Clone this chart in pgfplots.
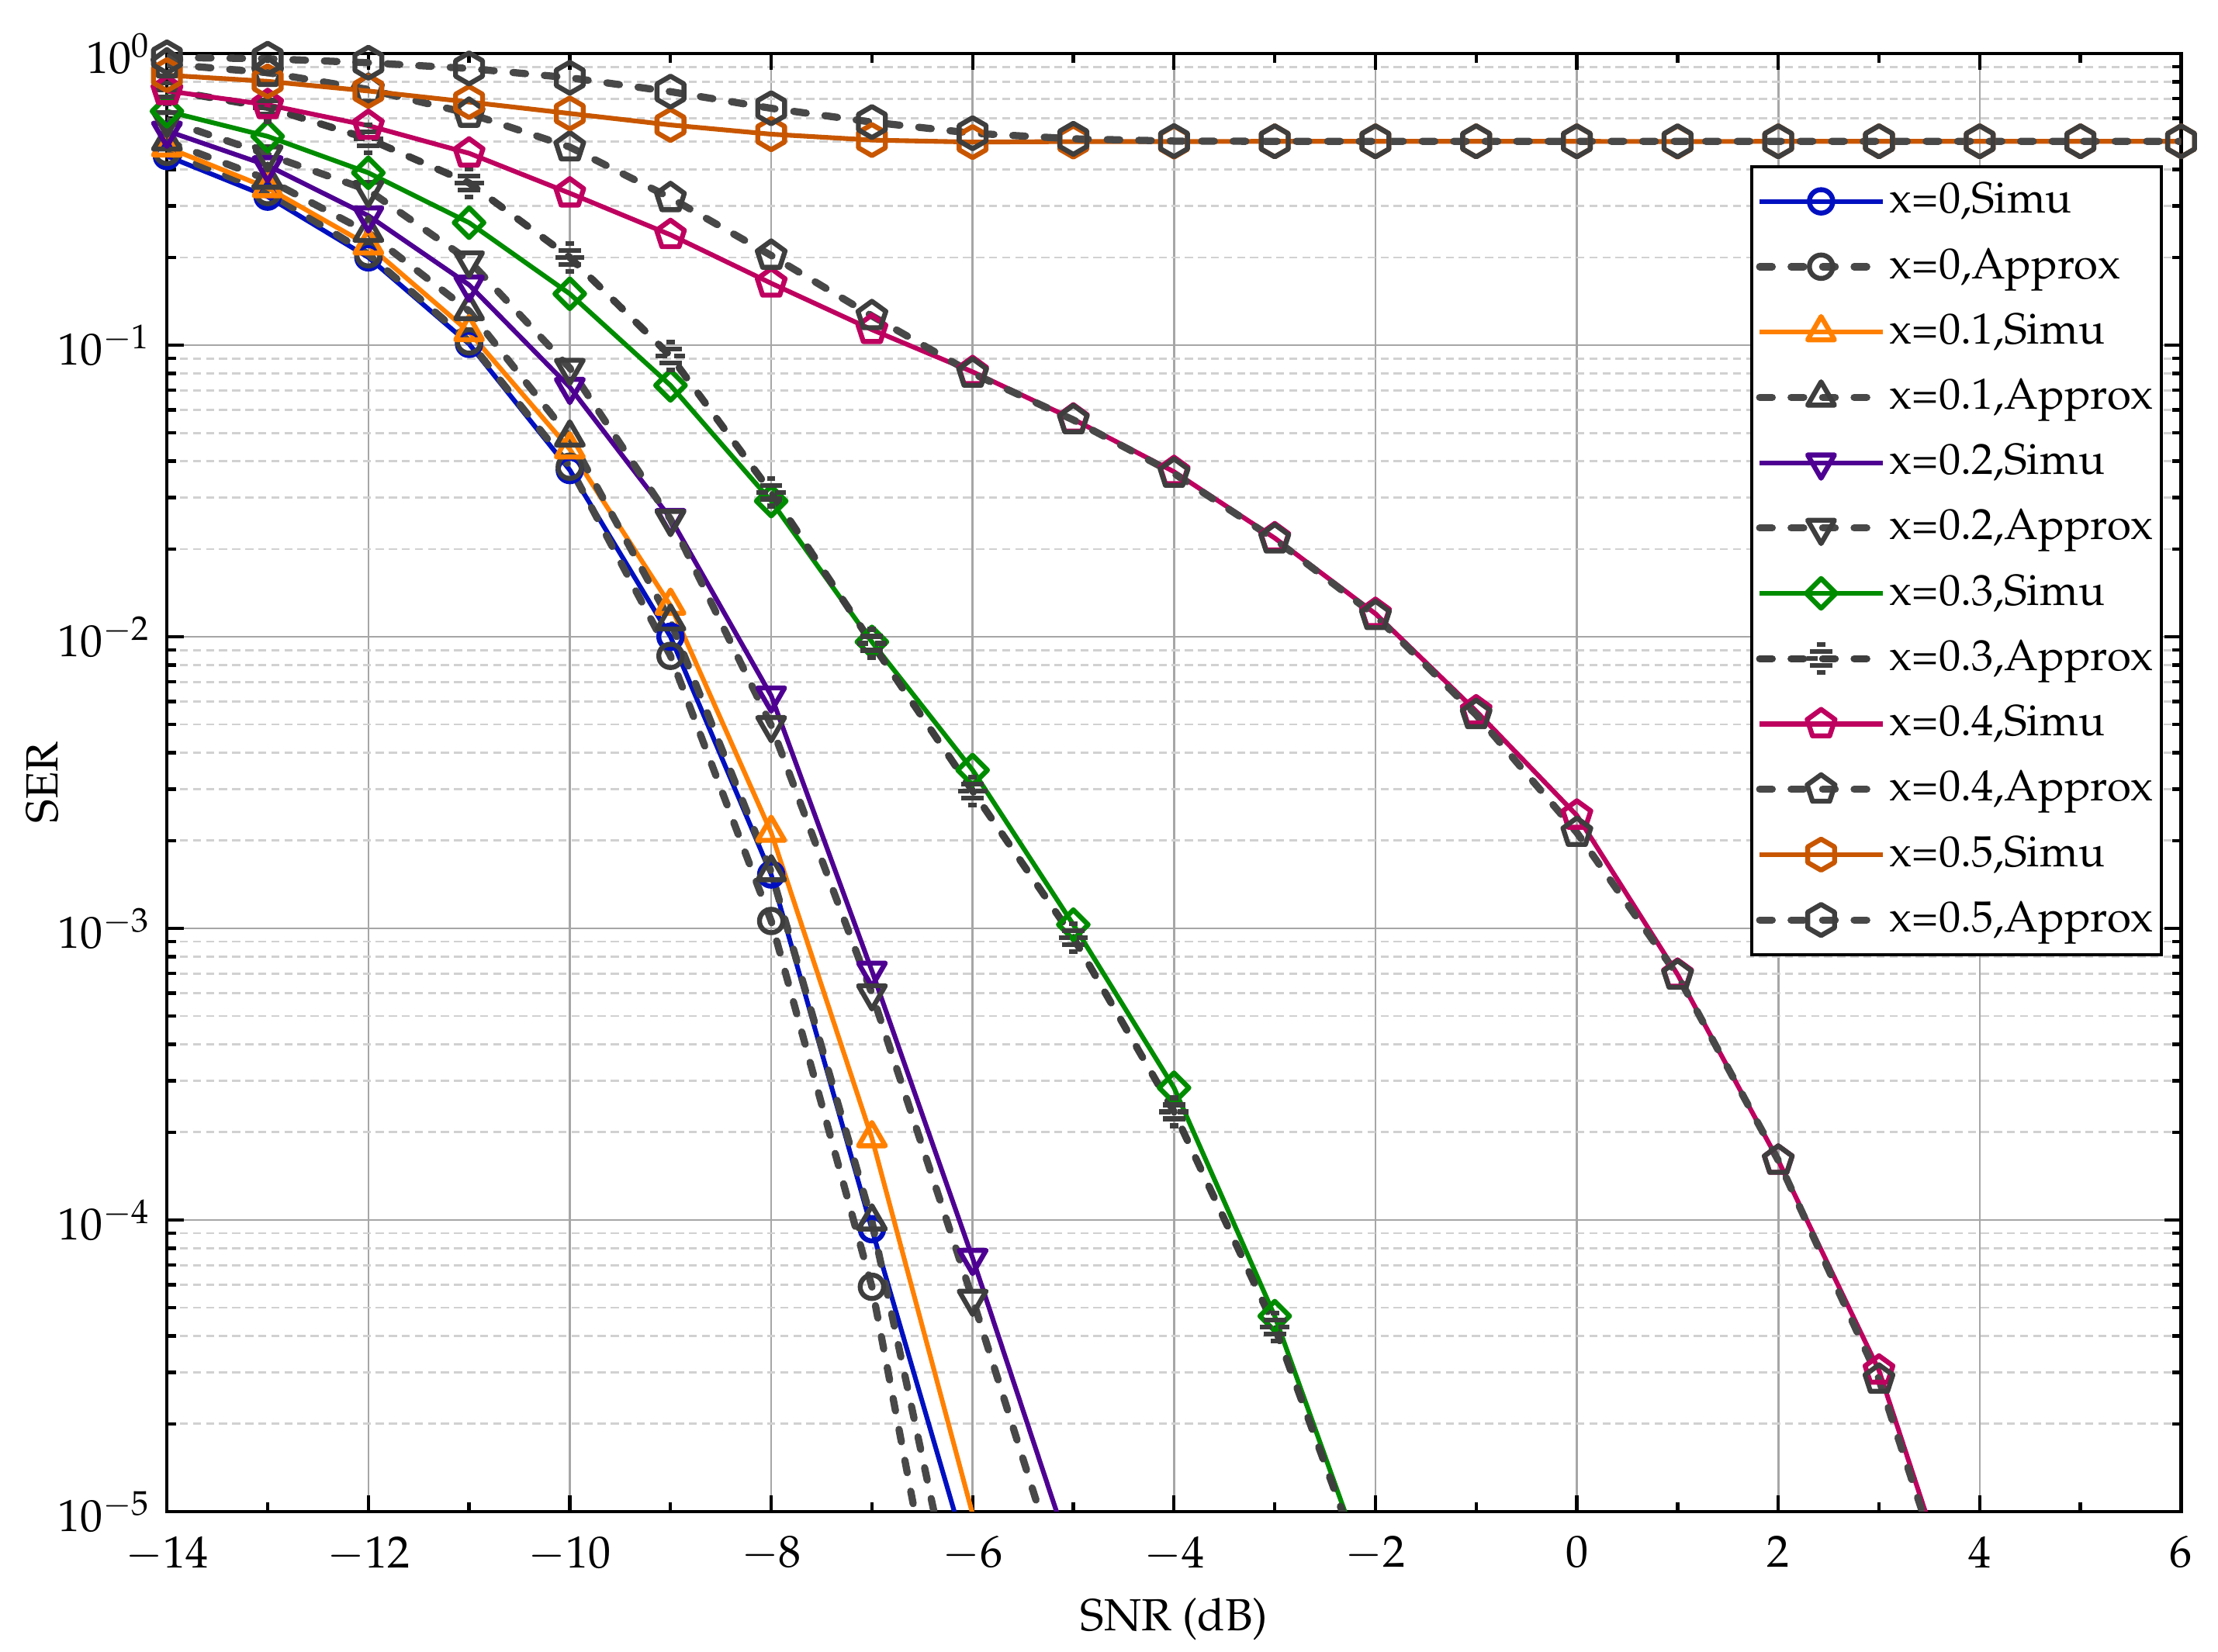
\documentclass[border=0pt]{standalone}
\usepackage[T1]{fontenc}
\usepackage{mathpazo}
\usepackage{pgfplots}
\pgfplotsset{compat=1.18}
\usetikzlibrary{plotmarks}

\definecolor{cB}{RGB}{0,16,192}
\definecolor{cO}{RGB}{255,128,0}
\definecolor{cP}{RGB}{78,0,146}
\definecolor{cG}{RGB}{0,140,0}
\definecolor{cR}{RGB}{190,0,95}
\definecolor{cBr}{RGB}{200,86,0}
\definecolor{cD}{RGB}{62,62,62}
\definecolor{cDl}{RGB}{72,72,72}

\pgfdeclareplotmark{hexa}{%
  \pgfpathmoveto{\pgfpointpolar{90}{\pgfplotmarksize}}%
  \pgfpathlineto{\pgfpointpolar{150}{\pgfplotmarksize}}%
  \pgfpathlineto{\pgfpointpolar{210}{\pgfplotmarksize}}%
  \pgfpathlineto{\pgfpointpolar{270}{\pgfplotmarksize}}%
  \pgfpathlineto{\pgfpointpolar{330}{\pgfplotmarksize}}%
  \pgfpathlineto{\pgfpointpolar{30}{\pgfplotmarksize}}%
  \pgfpathclose\pgfusepathqstroke}
\pgfdeclareplotmark{tridown}{%
  \pgfpathmoveto{\pgfpointpolar{270}{\pgfplotmarksize}}%
  \pgfpathlineto{\pgfpointpolar{30}{\pgfplotmarksize}}%
  \pgfpathlineto{\pgfpointpolar{150}{\pgfplotmarksize}}%
  \pgfpathclose\pgfusepathqstroke}
\pgfdeclareplotmark{rhomb}{%
  \pgfpathmoveto{\pgfqpoint{0pt}{\pgfplotmarksize}}%
  \pgfpathlineto{\pgfqpoint{\pgfplotmarksize}{0pt}}%
  \pgfpathlineto{\pgfqpoint{0pt}{-\pgfplotmarksize}}%
  \pgfpathlineto{\pgfqpoint{-\pgfplotmarksize}{0pt}}%
  \pgfpathclose\pgfusepathqstroke}
\pgfdeclareplotmark{hstripe}{%
  \pgfpathmoveto{\pgfqpoint{-0.3\pgfplotmarksize}{\pgfplotmarksize}}%
  \pgfpathlineto{\pgfqpoint{0.3\pgfplotmarksize}{\pgfplotmarksize}}%
  \pgfpathmoveto{\pgfqpoint{-0.8\pgfplotmarksize}{0.5\pgfplotmarksize}}%
  \pgfpathlineto{\pgfqpoint{0.8\pgfplotmarksize}{0.5\pgfplotmarksize}}%
  \pgfpathmoveto{\pgfqpoint{-1.05\pgfplotmarksize}{0pt}}%
  \pgfpathlineto{\pgfqpoint{-0.25\pgfplotmarksize}{0pt}}%
  \pgfpathmoveto{\pgfqpoint{0.25\pgfplotmarksize}{0pt}}%
  \pgfpathlineto{\pgfqpoint{1.05\pgfplotmarksize}{0pt}}%
  \pgfpathmoveto{\pgfqpoint{-0.8\pgfplotmarksize}{-0.5\pgfplotmarksize}}%
  \pgfpathlineto{\pgfqpoint{0.8\pgfplotmarksize}{-0.5\pgfplotmarksize}}%
  \pgfpathmoveto{\pgfqpoint{-0.3\pgfplotmarksize}{-\pgfplotmarksize}}%
  \pgfpathlineto{\pgfqpoint{0.3\pgfplotmarksize}{-\pgfplotmarksize}}%
  \pgfusepathqstroke}

\pgfplotsset{
  simu/.style={line width=1.05pt, line join=round, mark options={solid, line width=1.1pt}},
  appr/.style={color=cDl, line width=1.6pt, line join=round, line cap=round,
     dash pattern=on 2.8pt off 4.2pt, mark options={solid, line width=1.1pt, color=cD, line cap=butt}},
}

\begin{document}
\begin{tikzpicture}
\begin{axis}[
  name=ax,
  scale only axis,
  width=447.6pt, height=324.1pt,
  xmin=-14, xmax=6,
  ymode=log, ymin=1e-5, ymax=1,
  xtick={-14,-12,...,6},
  minor x tick num=1,
  ytick={1e-5,1e-4,1e-3,1e-2,1e-1,1},
  xmajorgrids, ymajorgrids, yminorgrids,
  major grid style={line width=0.45pt, color=black!35},
  minor grid style={line width=0.45pt, color=black!18, dash pattern=on 1.8pt off 1.1pt},
  axis line style={line width=0.75pt},
  every tick/.style={black, line width=0.75pt},
  major tick length=3.7pt, minor tick length=2pt,
  tick align=inside,
  xlabel={SNR (dB)}, ylabel={SER},
  ylabel shift=-7pt,
  xlabel shift=-1pt,
  xticklabel style={yshift=-2pt},
  label style={font=\normalsize},
  tick label style={font=\normalsize},
  legend image code/.code={\draw[mark repeat=2,mark phase=2] plot coordinates {(0cm,0cm) (0.48cm,0cm) (0.96cm,0cm)};},
  legend style={at={(1,1)}, anchor=north east, xshift=-4pt, yshift=-24.8pt,
    draw=black, line width=0.7pt, fill=white, font=\fontsize{9.7}{11}\selectfont,
    nodes={inner xsep=0.8pt, inner ysep=2pt, text depth=0.15em},
    cells={anchor=west}, row sep=2.3pt, inner xsep=1pt, inner ysep=1.6pt},
]
% x=0 Simu
\addplot[simu, cB, mark=o, mark size=2.6pt] coordinates {
(-14,0.445) (-13,0.323) (-12,0.200) (-11,0.101) (-10,0.0373) (-9,0.0100) (-8,0.00153) (-7,9.3e-5) (-6,6.1e-6)};
\addlegendentry{x=0,Simu}
% x=0 Approx
\addplot[appr, mark=o, mark size=2.6pt] coordinates {
(-14,0.46) (-13,0.335) (-12,0.205) (-11,0.103) (-10,0.0383) (-9,0.0086) (-8,0.00106) (-7,5.9e-5) (-6,9e-7)};
\addlegendentry{x=0,Approx}
% x=0.1 Simu
\addplot[simu, cO, mark=triangle, mark size=3.45pt] coordinates {
(-14,0.477) (-13,0.346) (-12,0.220) (-11,0.111) (-10,0.044) (-9,0.0128) (-8,0.00213) (-7,1.91e-4) (-6,9.8e-6)};
\addlegendentry{x=0.1,Simu}
% x=0.1 Approx
\addplot[appr, mark=triangle, mark size=3.45pt] coordinates {
(-14,0.50) (-13,0.37) (-12,0.243) (-11,0.131) (-10,0.0483) (-9,0.0113) (-8,0.00156) (-7,9.9e-5) (-6,2.4e-6)};
\addlegendentry{x=0.1,Approx}
% x=0.2 Simu
\addplot[simu, cP, mark=tridown, mark size=3.45pt] coordinates {
(-14,0.543) (-13,0.413) (-12,0.278) (-11,0.161) (-10,0.0718) (-9,0.0255) (-8,0.00628) (-7,7.15e-4) (-6,7.4e-5) (-5,6.7e-6)};
\addlegendentry{x=0.2,Simu}
% x=0.2 Approx
\addplot[appr, mark=tridown, mark size=3.45pt] coordinates {
(-14,0.59) (-13,0.45) (-12,0.34) (-11,0.195) (-10,0.0835) (-9,0.0253) (-8,0.00497) (-7,5.98e-4) (-6,5.36e-5) (-5,4.3e-6)};
\addlegendentry{x=0.2,Approx}
% x=0.3 Simu
\addplot[simu, cG, mark=rhomb, mark size=3.3pt] coordinates {
(-14,0.634) (-13,0.52) (-12,0.39) (-11,0.263) (-10,0.150) (-9,0.0728) (-8,0.0292) (-7,0.0096) (-6,0.00349) (-5,0.00103) (-4,2.84e-4) (-3,4.68e-5) (-2,5.1e-6)};
\addlegendentry{x=0.3,Simu}
% x=0.3 Approx
\addplot[appr, color=cD, mark=hstripe, mark size=3.1pt] coordinates {
(-14,0.75) (-13,0.654) (-12,0.51) (-11,0.36) (-10,0.20) (-9,0.0918) (-8,0.0313) (-7,0.0095) (-6,0.00296) (-5,9.3e-4) (-4,2.35e-4) (-3,4.3e-5) (-2,4.9e-6)};
\addlegendentry{x=0.3,Approx}
% x=0.4 Simu
\addplot[simu, cR, mark=pentagon, mark size=3.25pt] coordinates {
(-14,0.745) (-13,0.667) (-12,0.566) (-11,0.455) (-10,0.332) (-9,0.239) (-8,0.163) (-7,0.113) (-6,0.081) (-5,0.0557) (-4,0.0368) (-3,0.0218) (-2,0.0120) (-1,0.00556) (0,0.00244) (1,6.95e-4) (2,1.6e-4) (3,3.05e-5) (4,2.7e-6)};
\addlegendentry{x=0.4,Simu}
% x=0.4 Approx
\addplot[appr, mark=pentagon, mark size=3.25pt] coordinates {
(-14,0.92) (-13,0.86) (-12,0.753) (-11,0.623) (-10,0.478) (-9,0.32) (-8,0.203) (-7,0.126) (-6,0.080) (-5,0.0554) (-4,0.0363) (-3,0.0216) (-2,0.0118) (-1,0.0054) (0,0.00213) (1,6.9e-4) (2,1.6e-4) (3,2.84e-5) (4,2.5e-6)};
\addlegendentry{x=0.4,Approx}
% x=0.5 Simu
\addplot[simu, cBr, mark=hexa, mark size=3.45pt] coordinates {
(-14,0.843) (-13,0.803) (-12,0.744) (-11,0.682) (-10,0.623) (-9,0.569) (-8,0.529) (-7,0.505) (-6,0.497) (-5,0.499) (-4,0.499) (-3,0.5) (-2,0.5) (-1,0.5) (0,0.5) (1,0.499) (2,0.5) (3,0.5) (4,0.5) (5,0.5) (6,0.5)};
\addlegendentry{x=0.5,Simu}
% x=0.5 Approx
\addplot[appr, mark=hexa, mark size=3.45pt] coordinates {
(-14,0.97) (-13,0.96) (-12,0.93) (-11,0.889) (-10,0.826) (-9,0.74) (-8,0.649) (-7,0.582) (-6,0.533) (-5,0.51) (-4,0.501) (-3,0.5) (-2,0.5) (-1,0.5) (0,0.5) (1,0.5) (2,0.5) (3,0.5) (4,0.5) (5,0.5) (6,0.5)};
\addlegendentry{x=0.5,Approx}
\end{axis}
\pgfresetboundingbox
\path[use as bounding box] ([xshift=-37.1pt,yshift=-31.2pt]ax.south west) rectangle ([xshift=8.2pt,yshift=11.9pt]ax.north east);
\end{tikzpicture}
\end{document}
